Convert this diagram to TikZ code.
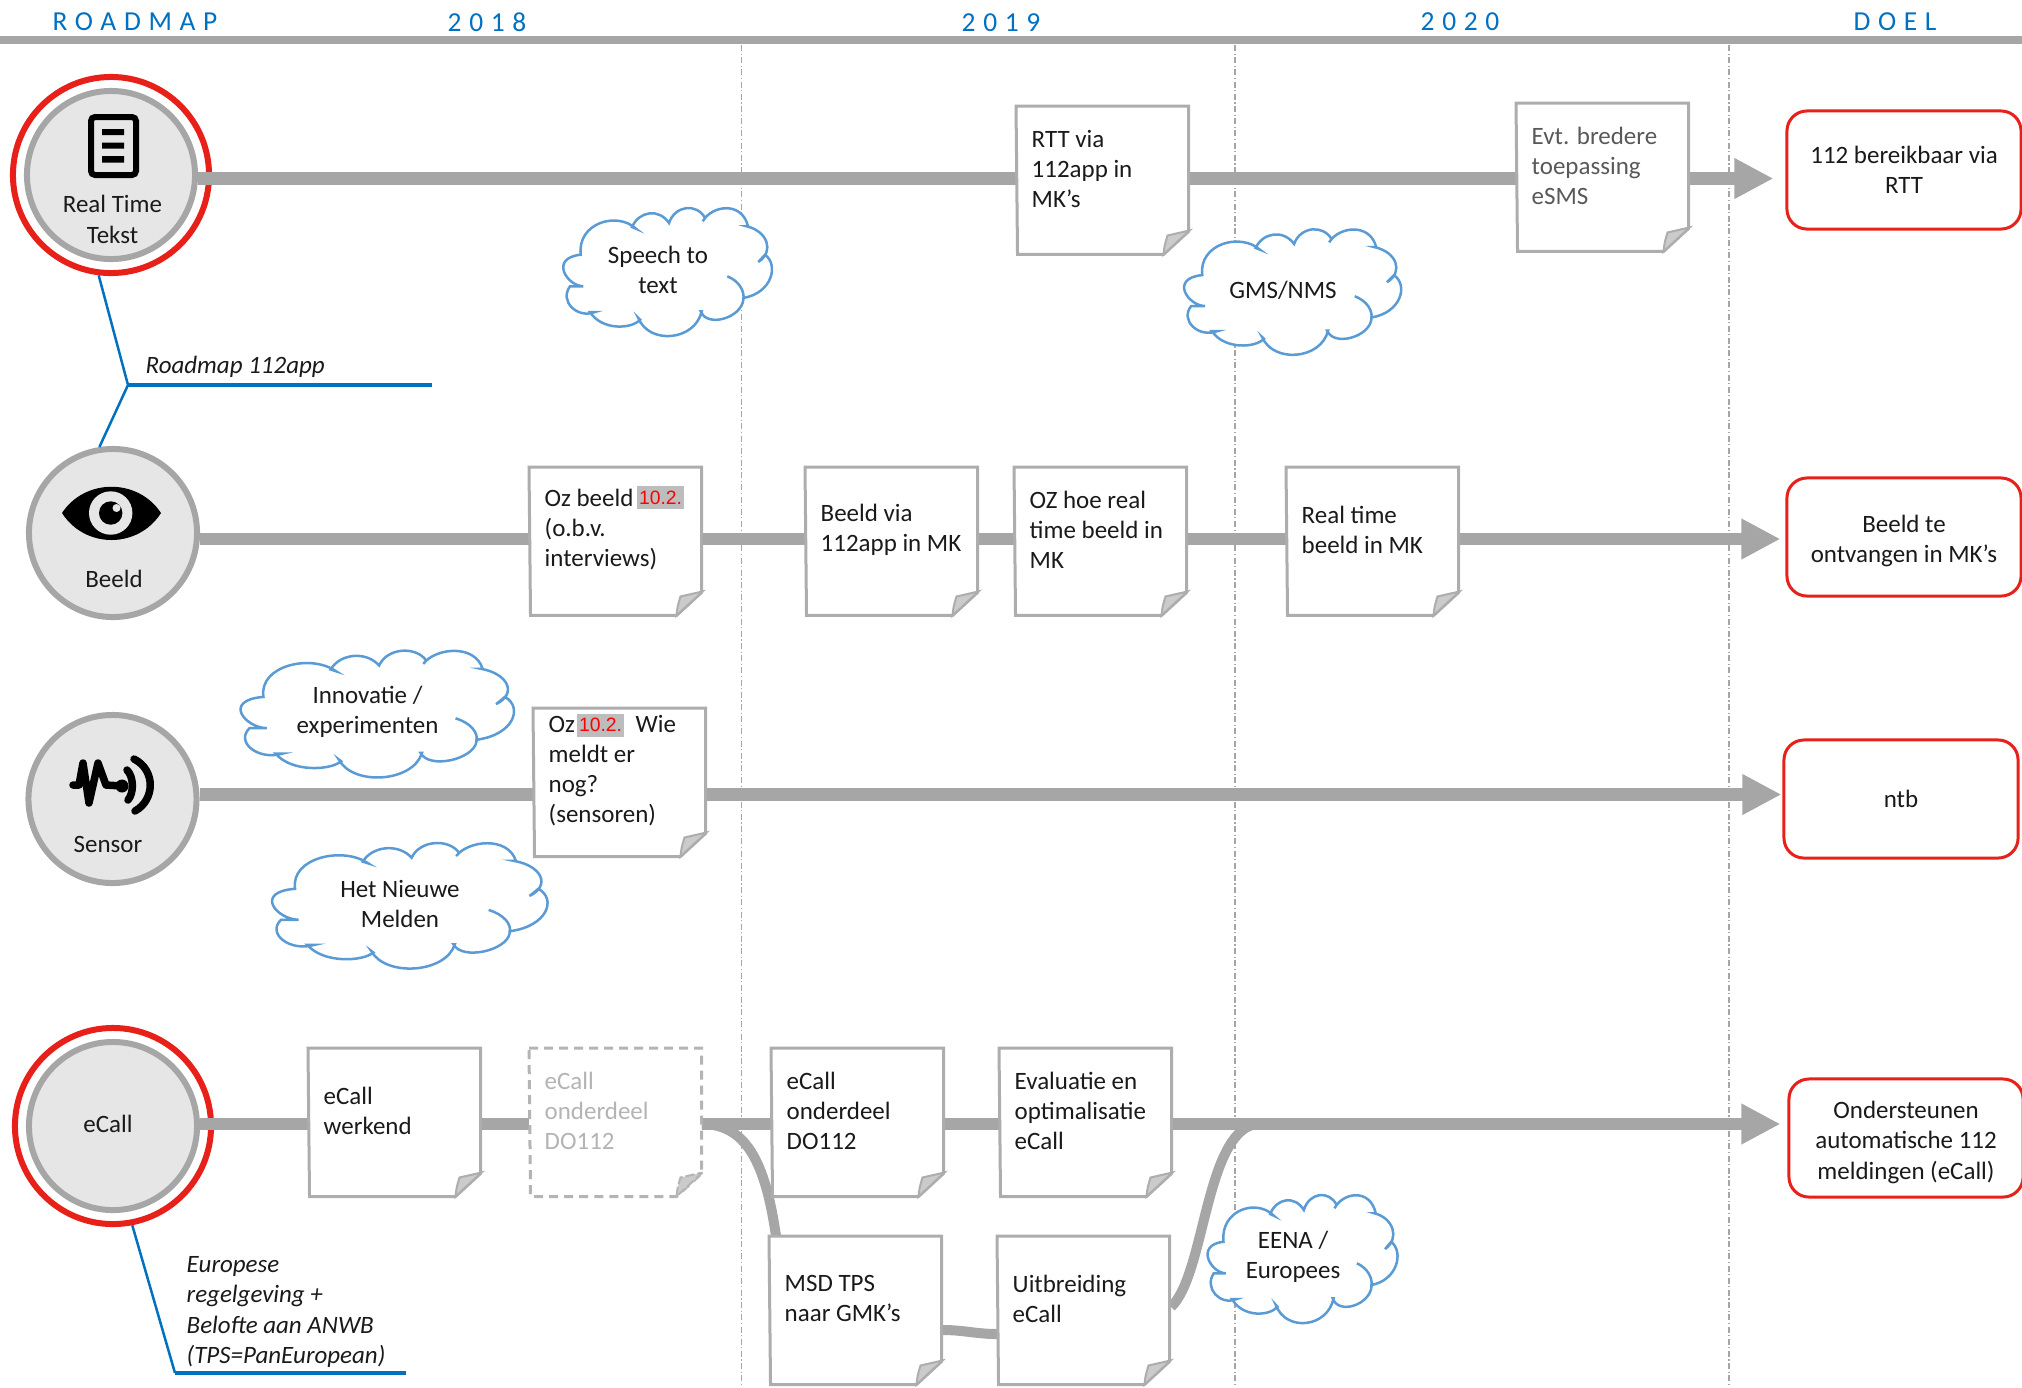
\documentclass[tikz,border=0pt]{standalone}
\usepackage{fontspec}
\usepackage{tikz}
\usepackage{xcolor}
\usetikzlibrary{arrows.meta, backgrounds}
\setmainfont{Carlito}
\newfontfamily\headfont[LetterSpace=28]{Carlito}
\newfontfamily\markfont{Liberation Sans}
\definecolor{linegrey}{HTML}{A6A6A6}
\definecolor{discfill}{HTML}{E6E6E6}
\definecolor{sheetgrey}{HTML}{ADADAD}
\definecolor{foldgrey}{HTML}{CBCBCB}
\definecolor{gonegrey}{HTML}{B4B4B4}
\definecolor{markgrey}{HTML}{BDBDBD}
\definecolor{headblue}{HTML}{0070C0}
\definecolor{cloudblue}{HTML}{5B9BD5}
\definecolor{doelred}{HTML}{E8201A}
\definecolor{inktext}{HTML}{1A1A1A}
\tikzset{
    bodyfont/.style={font=\fontsize{7.1}{8.6}\selectfont, text=inktext},
    headtext/.style={font=\fontsize{7.8}{9}\headfont, text=headblue},
    disc/.style={circle, draw=linegrey, fill=discfill, line width=.06cm, minimum size=1.68cm},
    ring/.style={circle, draw=doelred, line width=.06cm, minimum size=1.96cm},
    notetext/.style={bodyfont, anchor=north west, minimum width=1.71cm, minimum height=1.24cm,
        text width=1.41cm, inner xsep=.15cm, inner ysep=0pt, align=flush left},
    notesheet/.style={draw=sheetgrey, fill=white, line width=.03cm},
    notefold/.style={draw=sheetgrey, fill=foldgrey, line width=.02cm},
    notegone/.style={draw=gonegrey, fill=white, line width=.03cm, dash pattern=on .09cm off .06cm},
    notegonefold/.style={draw=gonegrey, fill=foldgrey, line width=.02cm, dash pattern=on .09cm off .03cm},
    redmark/.style={fill=markgrey, text=red, font=\fontsize{5.5}{6}\markfont, inner sep=0pt,
        minimum width=.47cm, minimum height=.23cm},
    doelbox/.style={bodyfont, draw=doelred, fill=white, rounded corners=.2cm, line width=.03cm,
        minimum width=2.34cm, minimum height=1.18cm, align=flush center, inner sep=0pt},
    cloudtext/.style={bodyfont, align=flush center, inner sep=0pt},
    cloudline/.style={draw=cloudblue, fill=white, line width=.025cm},
    flow/.style={draw=linegrey, line width=.125cm},
    flowbend/.style={draw=linegrey, line width=.1cm},
    flowend/.style={flow, -{Triangle[length=.39cm, width=.38cm]}},
    slant/.style={draw=headblue, line width=.025cm},
    underline/.style={draw=headblue, line width=.035cm},
    yeargrid/.style={draw=linegrey, line width=.012cm, dash pattern=on .06cm off .025cm on .012cm off .025cm}
}
\newcommand{\cloudoutline}{
    (-86.3,-18.3) .. controls (-90,-50) and (-50,-62) .. (-31,-44.3)
    -- (-35,-46) .. controls (-28,-62) and (-8,-65) .. (2,-50)
    .. controls (8,-68) and (30,-70) .. (38,-55)
    -- (35.7,-51.7) .. controls (45,-68) and (75,-72) .. (81,-46.7)
    -- (79.7,-46.7) .. controls (100,-42) and (108,-22) .. (91.3,-11)
    -- (98,-18.3) .. controls (112,-8) and (105,20) .. (76.3,25)
    -- (76.3,27) .. controls (74,45) and (40,55) .. (33.7,38.3)
    -- (34.7,38.3) .. controls (28,68) and (-18,72) .. (-28.7,45)
    -- (-27,46.7) .. controls (-35,56) and (-65,58) .. (-77,39)
    -- (-72,39) .. controls (-90,46) and (-108,28) .. (-97,13.3)
    -- (-83.7,13.3) .. controls (-100,13) and (-118,-15) .. (-86.3,-18.3) -- cycle
    (60.3,3.3) .. controls (72,8) and (78,18) .. (76.3,27)
}
\newcommand{\notepaper}[3]{
    \draw[#2] (#1.north west) -- (#1.north east) -- (#1.south east) -- ++(-25,23) -- ++(-146,0) -- cycle;
    \draw[#3, shift={(#1.south east)}] (1,-1) -- (-25,23) .. controls (-24,14) .. (-21,4) .. controls (-10,2) .. (1,-1) -- cycle;
}
\begin{document}
\begin{tikzpicture}[x=.01cm, y=-.01cm]
        \useasboundingbox (0,0) rectangle (2022,1387);

        \node[headtext] (headroad) at (135,22) {ROADMAP};
        \node[headtext] (heada) at (487,22) {2018};
        \node[headtext] (headb) at (1001,23) {2019};
        \node[headtext] (headc) at (1460,22) {2020};
        \node[headtext] (headdoel) at (1895,22) {DOEL};

        \coordinate (rowA) at (0,178.5);
        \coordinate (rowB) at (0,539);
        \coordinate (rowC) at (0,794.5);
        \coordinate (rowD) at (0,1124);

        \node[disc] (rtt) at (111,175) {};
        \node[disc] (beeld) at (113,533) {};
        \node[disc] (sensor) at (112.5,799) {};
        \node[disc] (ecall) at (113,1126) {};

        \node[bodyfont, align=flush center, inner sep=0pt] (rtttext) at (112.5,219.5) {Real Time\\Tekst};
        \node[bodyfont, inner sep=0pt] (beeldtext) at (114,579) {Beeld};
        \node[bodyfont, inner sep=0pt] (sensortext) at (108,844) {Sensor};
        \node[bodyfont, inner sep=0pt] (ecalltext) at (108,1124) {eCall};

        \node[notetext] (rttA) at (1016,106) {RTT via\\112app in\\MK’s};
        \node[notetext, text=black!65] (rttB) at (1516,103) {Evt. bredere\\toepassing\\eSMS};
        \node[notetext] (beeldA) at (529,467) {Oz beeld\\(o.b.v.\\interviews)};
        \node[notetext] (beeldB) at (805,467) {Beeld via\\112app~in~MK};
        \node[notetext] (beeldC) at (1014,467) {OZ hoe real\\time beeld in\\MK};
        \node[notetext] (beeldD) at (1286,467) {Real time\\beeld in MK};
        \node[notetext] (sensorA) at (533,708) {Oz\hspace*{.55cm} Wie\\meldt er\\nog?\\(sensoren)};
        \node[notetext] (ecallA) at (308,1048) {eCall\\werkend};
        \node[notetext, text=gonegrey] (ecallB) at (529,1048) {eCall\\onderdeel\\DO112};
        \node[notetext] (ecallC) at (771,1048) {eCall\\onderdeel\\DO112};
        \node[notetext] (ecallD) at (999,1048) {Evaluatie en\\optimalisatie\\eCall};
        \node[notetext] (ecallE) at (769,1236) {MSD TPS\\naar GMK’s};
        \node[notetext] (ecallF) at (997,1236) {Uitbreiding\\eCall};

        \node[redmark] (markA) at (660.5,497.5) {10.2.};
        \node[redmark] (markB) at (600.5,725) {10.2.};

        \node[doelbox] (doelA) at (1904,170) {112 bereikbaar via\\RTT};
        \node[doelbox] (doelB) at (1904,537) {\rule{0pt}{.26cm}Beeld te\\ontvangen in MK’s};
        \node[doelbox] (doelC) at (1901,799) {ntb};
        \node[doelbox] (doelD) at (1906,1138) {\rule{0pt}{.26cm}Ondersteunen\\automatische 112\\meldingen (eCall)};

        \node[cloudtext] (cloudA) at (658,270) {Speech to\\text};
        \node[cloudtext] (cloudB) at (1283,290) {GMS/NMS};
        \node[cloudtext] (cloudC) at (367.5,712) {Innovatie /\\experimenten};
        \node[cloudtext] (cloudD) at (400,903.7) {Het Nieuwe\\Melden};
        \node[cloudtext] (cloudE) at (1293,1257) {EENA /\\Europees};

        \node[bodyfont, font=\fontsize{7.1}{8.6}\selectfont\itshape, anchor=west, inner sep=0pt] (apptext) at (145,367) {Roadmap 112app};
        \node[bodyfont, font=\fontsize{7.1}{8.6}\selectfont\itshape, anchor=west, align=flush left, inner sep=0pt] (regeltext) at (186,1312) {Europese\\regelgeving +\\Belofte aan ANWB\\(TPS=PanEuropean)};

        \coordinate (appknik) at (128,385);
        \coordinate (append) at (432,385);
        \coordinate (regelknik) at (175,1373);
        \coordinate (regelend) at (406,1373);
        \coordinate (msdin) at (776,1236);
        \coordinate (msdout) at (943,1330);
        \coordinate (uitin) at (997,1334);
        \coordinate (uitout) at (1171,1307);
        \coordinate (ecallmerge) at (1255,1124);

        \begin{scope}[on background layer]
            \draw[draw=linegrey, line width=.08cm] (0,40) -- (2022,40);
            \foreach \x in {741.7, 1235, 1729} {
                \draw[yeargrid] (\x,45) -- (\x,1387);
            }

            \node[ring] (ringA) at (111,175) {};
            \node[ring] (ringD) at (113,1126) {};

            \draw[flow] (rtt.east |- rowA) -- (rttA.west |- rowA);
            \draw[flow] (rttA.east |- rowA) -- (rttB.west |- rowA);
            \draw[flowend, shorten >=.12cm] (rttB.east |- rowA) -- (doelA.west |- rowA);

            \draw[flow] (beeld.east |- rowB) -- (beeldA.west |- rowB);
            \draw[flow] (beeldA.east |- rowB) -- (beeldB.west |- rowB);
            \draw[flow] (beeldB.east |- rowB) -- (beeldC.west |- rowB);
            \draw[flow] (beeldC.east |- rowB) -- (beeldD.west |- rowB);
            \draw[flowend, shorten >=.05cm] (beeldD.east |- rowB) -- (doelB.west |- rowB);

            \draw[flow] (sensor.east |- rowC) -- (sensorA.west |- rowC);
            \draw[flowend, shorten >=.01cm] (sensorA.east |- rowC) -- (doelC.west |- rowC);

            \draw[flow] (ecall.east |- rowD) -- (ecallA.west |- rowD);
            \draw[flow] (ecallA.east |- rowD) -- (ecallB.west |- rowD);
            \draw[flow] (ecallB.east |- rowD) -- (ecallC.west |- rowD);
            \draw[flow] (ecallC.east |- rowD) -- (ecallD.west |- rowD);
            \draw[flowend, shorten >=.07cm] (ecallD.east |- rowD) -- (doelD.west |- rowD);
            \draw[flowbend] (ecallB.east |- rowD) .. controls (745,1124) and (765,1160) .. (msdin);
            \draw[flowbend] (msdout) to[out=0, in=180] (uitin);
            \draw[flowbend] (uitout) .. controls (1205,1275) and (1205,1135) .. (ecallmerge);

            \foreach \n/\sx/\sy in {cloudA/1/1, cloudB/1.04/.98, cloudC/1.31/.99, cloudD/1.32/.98, cloudE/.91/1} {
                \draw[cloudline, shift={(\n.center)}, xshift=.09cm, yshift=-.03cm, xscale=\sx, yscale=\sy] \cloudoutline;
            }

            \foreach \n in {rttA, rttB, beeldA, beeldB, beeldC, beeldD, sensorA, ecallA, ecallC, ecallD, ecallE, ecallF} {
                \notepaper{\n}{notesheet}{notefold}
            }
            \notepaper{ecallB}{notegone}{notegonefold}
        \end{scope}

        \draw[slant] (ringA.263) -- (appknik) -- (beeld.99);
        \draw[underline] (appknik) -- (append);
        \draw[slant] (ringD.281) -- (regelknik);
        \draw[underline] (regelknik) -- (regelend);

        \draw[draw=black, fill=discfill, line width=.06cm, rounded corners=.04cm] (91,117) rectangle (136,175);
        \fill (102,129) rectangle (124,135) (102,142.5) rectangle (124,148.5) (102,156) rectangle (124,162.5);

        \fill (62,513) .. controls (85,478) and (138,478) .. (161,513) .. controls (138,549) and (85,549) .. (62,513) -- cycle;
        \fill[discfill] (110.7,513) circle (.217cm);
        \fill (110.7,513) circle (.117cm);
        \fill[discfill] (116.5,508) circle (.04cm);

        \draw[line width=.075cm, line cap=round, line join=round] (73,785) -- (79,785) -- (83,763) -- (89,803) -- (98,763) -- (106,785) -- (122,786);
        \fill (122,786) circle (.065cm);
        \draw[line width=.075cm, line cap=round] (127,770) .. controls (134,777) and (134,793) .. (128,800);
        \draw[line width=.075cm, line cap=round] (134,759) .. controls (156,770) and (155,800) .. (135,811);
    \end{tikzpicture}
\end{document}
